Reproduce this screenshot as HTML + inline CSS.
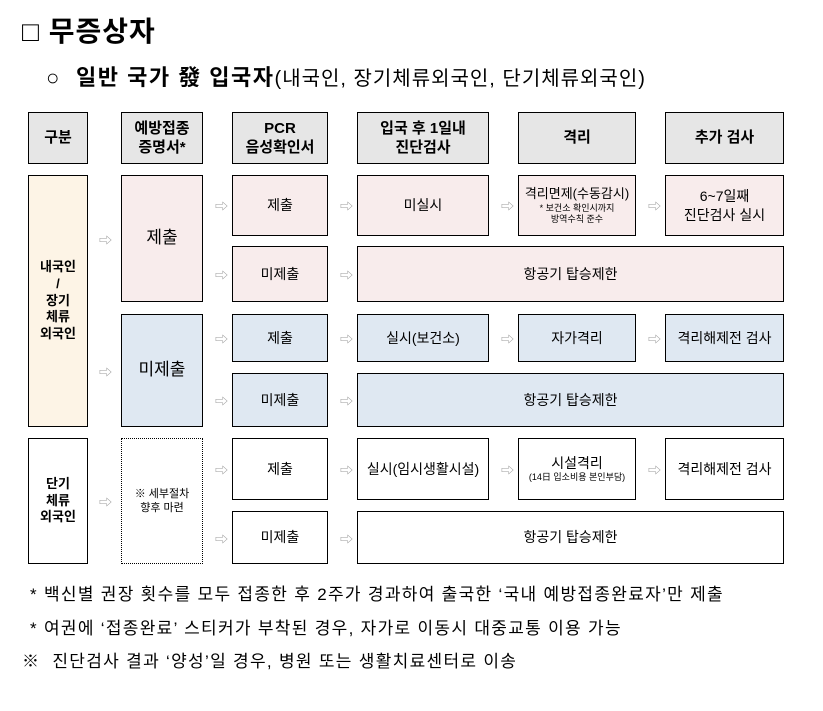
<!DOCTYPE html>
<html><head><meta charset="utf-8"><style>
body{margin:0;width:823px;height:711px;background:#fff;font-family:"Liberation Sans","Noto Sans CJK KR",sans-serif;color:#000;position:relative;overflow:hidden}
.b{position:absolute;box-sizing:border-box;border:1.5px solid #000;display:flex;align-items:center;justify-content:center;text-align:center;font-size:14px;line-height:1.3}
.h{background:#e6e6e6;font-weight:bold;font-size:15px}
.p{background:#f8ecec}.u{background:#dfe8f2}.c{background:#fdf4e6}
.a{position:absolute;color:#999;font-size:13px}
.t{position:absolute;white-space:nowrap}
</style></head><body>
<div class="t" style="left:22px;top:10px;font-size:28px;font-weight:bold;letter-spacing:1px">□&nbsp;무증상자</div>
<div class="t" style="left:46px;top:60px;font-size:22px;letter-spacing:1.5px"><b>○&nbsp; 일반 국가 發 입국자</b><span style="font-size:20px;letter-spacing:1px">(내국인, 장기체류외국인, 단기체류외국인)</span></div>

<div class="b h" style="left:28px;top:112px;width:60px;height:52px">구분</div>
<div class="b h" style="left:121px;top:112px;width:82px;height:52px">예방접종<br>증명서*</div>
<div class="b h" style="left:232px;top:112px;width:96px;height:52px">PCR<br>음성확인서</div>
<div class="b h" style="left:357px;top:112px;width:132px;height:52px">입국 후 1일내<br>진단검사</div>
<div class="b h" style="left:518px;top:112px;width:118px;height:52px">격리</div>
<div class="b h" style="left:665px;top:112px;width:119px;height:52px">추가 검사</div>

<div class="b c" style="left:28px;top:175px;width:60px;height:252px;font-weight:bold;font-size:13px">내국인<br>/<br>장기<br>체류<br>외국인</div>
<div class="b p" style="left:121px;top:175px;width:82px;height:127px;font-size:17px">제출</div>
<div class="b u" style="left:121px;top:314px;width:82px;height:113px;font-size:17px">미제출</div>

<div class="b p" style="left:232px;top:175px;width:96px;height:61px">제출</div>
<div class="b p" style="left:357px;top:175px;width:132px;height:61px">미실시</div>
<div class="b p" style="left:518px;top:175px;width:118px;height:61px;flex-direction:column"><span style="font-size:13px">격리면제(수동감시)</span><span style="font-size:9px;line-height:1.2">* 보건소 확인시까지<br>방역수칙 준수</span></div>
<div class="b p" style="left:665px;top:175px;width:119px;height:61px">6~7일째<br>진단검사 실시</div>
<div class="b p" style="left:232px;top:246px;width:96px;height:56px">미제출</div>
<div class="b p" style="left:357px;top:246px;width:427px;height:56px">항공기 탑승제한</div>

<div class="b u" style="left:232px;top:314px;width:96px;height:48px">제출</div>
<div class="b u" style="left:357px;top:314px;width:132px;height:48px">실시(보건소)</div>
<div class="b u" style="left:518px;top:314px;width:118px;height:48px">자가격리</div>
<div class="b u" style="left:665px;top:314px;width:119px;height:48px">격리해제전 검사</div>
<div class="b u" style="left:232px;top:373px;width:96px;height:54px">미제출</div>
<div class="b u" style="left:357px;top:373px;width:427px;height:54px">항공기 탑승제한</div>

<div class="b" style="left:28px;top:438px;width:60px;height:126px;font-weight:bold;font-size:13px">단기<br>체류<br>외국인</div>
<div class="b" style="left:121px;top:438px;width:82px;height:126px;border:1px dotted #000;font-size:11px">※ 세부절차<br>향후 마련</div>
<div class="b" style="left:232px;top:438px;width:96px;height:62px">제출</div>
<div class="b" style="left:357px;top:438px;width:132px;height:62px">실시(임시생활시설)</div>
<div class="b" style="left:518px;top:438px;width:118px;height:62px;flex-direction:column"><span>시설격리</span><span style="font-size:9px">(14日 입소비용 본인부담)</span></div>
<div class="b" style="left:665px;top:438px;width:119px;height:62px">격리해제전 검사</div>
<div class="b" style="left:232px;top:511px;width:96px;height:53px">미제출</div>
<div class="b" style="left:357px;top:511px;width:427px;height:53px">항공기 탑승제한</div>

<div class="a" style="left:99px;top:230px">⇨</div>
<div class="a" style="left:99px;top:362px">⇨</div>
<div class="a" style="left:99px;top:492px">⇨</div>
<div class="a" style="left:215px;top:196px">⇨</div>
<div class="a" style="left:215px;top:265px">⇨</div>
<div class="a" style="left:215px;top:329px">⇨</div>
<div class="a" style="left:215px;top:391px">⇨</div>
<div class="a" style="left:215px;top:460px">⇨</div>
<div class="a" style="left:215px;top:529px">⇨</div>
<div class="a" style="left:340px;top:196px">⇨</div>
<div class="a" style="left:340px;top:265px">⇨</div>
<div class="a" style="left:340px;top:329px">⇨</div>
<div class="a" style="left:340px;top:391px">⇨</div>
<div class="a" style="left:340px;top:460px">⇨</div>
<div class="a" style="left:340px;top:529px">⇨</div>
<div class="a" style="left:501px;top:196px">⇨</div>
<div class="a" style="left:501px;top:329px">⇨</div>
<div class="a" style="left:501px;top:460px">⇨</div>
<div class="a" style="left:648px;top:196px">⇨</div>
<div class="a" style="left:648px;top:329px">⇨</div>
<div class="a" style="left:648px;top:460px">⇨</div>

<div class="t" style="left:30px;top:580px;font-size:17px;letter-spacing:1.3px">* 백신별 권장 횟수를 모두 접종한 후 2주가 경과하여 출국한 ‘국내 예방접종완료자’만 제출</div>
<div class="t" style="left:30px;top:614px;font-size:17px;letter-spacing:1.3px">* 여권에 ‘접종완료’ 스티커가 부착된 경우, 자가로 이동시 대중교통 이용 가능</div>
<div class="t" style="left:22px;top:647px;font-size:17px;letter-spacing:1.3px">※&nbsp; 진단검사 결과 ‘양성’일 경우, 병원 또는 생활치료센터로 이송</div>
</body></html>
